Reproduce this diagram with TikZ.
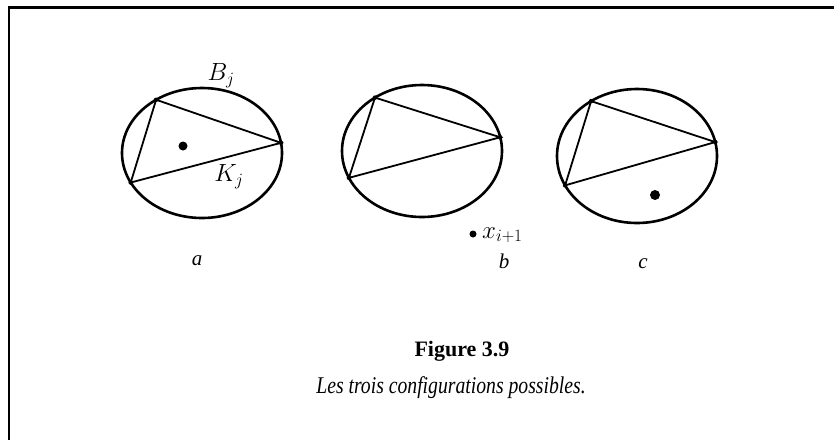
\documentclass[tikz,border=0pt]{standalone}
\usepackage{fontspec}
\setmainfont{Liberation Serif}
\usetikzlibrary{calc}
\begin{document}
\begin{tikzpicture}[x=1pt,y=-1pt,
  ring/.style={line width=2.6pt},
  chord/.style={line width=1.8pt},
  vtx/.style={circle,fill=black,inner sep=0pt,minimum size=4.5pt},
  bigdot/.style={circle,fill=black,inner sep=0pt,minimum size=#1},
  lab/.style={font=\fontsize{21}{21}\selectfont\itshape,inner sep=0pt}]
\useasboundingbox (0,0) rectangle (834,440);
% frame
\draw[line width=2.2pt] (9,440) -- (9,7.5) -- (834,7.5);
% ---------- circle a ----------
\coordinate (ca) at (202,153);
\draw[ring] (ca) ellipse [x radius=80, y radius=65];
\coordinate (a1) at ($(ca)+(235:80 and 65)$);
\coordinate (a2) at ($(ca)+(351:80 and 65)$);
\coordinate (a3) at ($(ca)+(153:80 and 65)$);
\draw[chord] (a1) -- (a2) -- (a3) -- cycle;
\node[vtx] (va1) at (a1) {};
\node[vtx] (va2) at (a2) {};
\node[vtx] (va3) at (a3) {};
\node[bigdot=9pt] (da) at (183,146) {};
\node[font=\fontsize{24}{24}\selectfont,inner sep=0pt] (Bj) at (221,76) {$B_j$};
\node[font=\fontsize{24}{24}\selectfont,inner sep=0pt] (Kj) at (229,177) {$K_j$};
\node[lab] (la) at (197,261) {a};
% ---------- circle b ----------
\coordinate (cb) at (422,151);
\draw[ring] (cb) ellipse [x radius=80, y radius=66];
\coordinate (b1) at ($(cb)+(234:80 and 66)$);
\coordinate (b2) at ($(cb)+(348:80 and 66)$);
\coordinate (b3) at ($(cb)+(156:80 and 66)$);
\draw[chord] (b1) -- (b2) -- (b3) -- cycle;
\node[vtx] (vb1) at (b1) {};
\node[vtx] (vb2) at (b2) {};
\node[vtx] (vb3) at (b3) {};
\node[bigdot=7pt] (db) at (473,234) {};
\node[anchor=base west,inner sep=0pt] (xi) at (482,238)
  {{\fontsize{24}{24}\selectfont$x$}{\fontsize{17}{17}\selectfont\raisebox{-3pt}{$i{+}1$}}};
\node[lab] (lb) at (504,261) {b};
% ---------- circle c ----------
\coordinate (cc) at (637,156);
\draw[ring] (cc) ellipse [x radius=80, y radius=67];
\coordinate (c1) at ($(cc)+(235:80 and 67)$);
\coordinate (c2) at ($(cc)+(348:80 and 67)$);
\coordinate (c3) at ($(cc)+(154:80 and 67)$);
\draw[chord] (c1) -- (c2) -- (c3) -- cycle;
\node[vtx] (vc1) at (c1) {};
\node[vtx] (vc2) at (c2) {};
\node[vtx] (vc3) at (c3) {};
\node[bigdot=10pt] (dc) at (655,195) {};
\node[lab] (lc) at (643,264) {c};
% ---------- caption ----------
\node[font=\fontsize{22}{22}\selectfont\bfseries,inner sep=0pt] (fig) at (462,351) {Figure 3.9};
\node[font=\fontsize{24}{24}\selectfont\itshape,inner sep=0pt,xscale=0.82] (cap) at (451,388) {Les trois configurations possibles.};
\end{tikzpicture}
\end{document}
